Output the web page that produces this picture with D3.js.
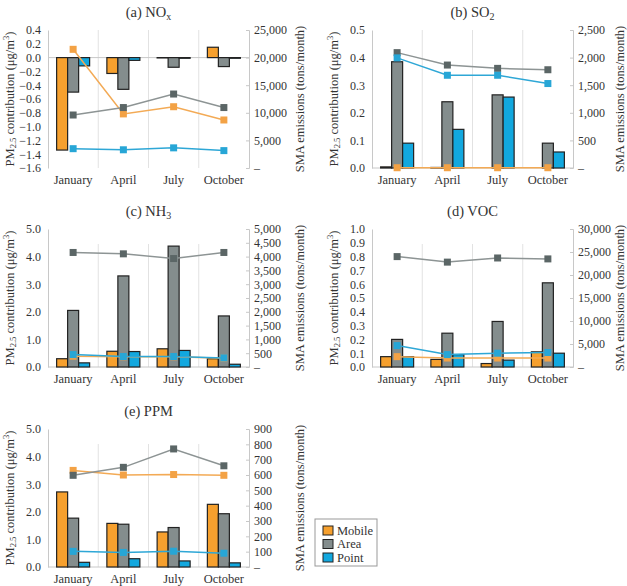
<!DOCTYPE html>
<html>
<head>
<meta charset="utf-8">
<script src="https://cdn.jsdelivr.net/npm/d3@7"></script>
<style>
  body { margin: 0; background: #fff; }
</style>
</head>
<body>
<svg id="chart" width="627" height="586"></svg>
<script>
// categories and series
const months = ["January", "April", "July", "October"];
const sources = ["Mobile", "Area", "Point"];
const colors = ["#f6a02e", "#848d8d", "#12a8df"];
const markerColors = ["#f3a245", "#5b6666", "#27a6d6"];
const lineColors = ["#f3aa55", "#8d9494", "#2ea7d6"];

// PM2.5 contribution (ug/m3) — rows: Mobile, Area, Point
const noxPM = [[-1.34, -0.23, -0.005, 0.15], [-0.50, -0.46, -0.14, -0.13], [-0.12, -0.04, -0.01, -0.01]];
const so2PM = [[0.004, 0.002, 0.0, 0.0], [0.385, 0.24, 0.265, 0.09], [0.09, 0.14, 0.257, 0.058]];
const nh3PM = [[0.30, 0.57, 0.66, 0.30], [2.05, 3.30, 4.38, 1.85], [0.15, 0.56, 0.60, 0.10]];
const vocPM = [[0.075, 0.055, 0.025, 0.11], [0.20, 0.245, 0.33, 0.61], [0.075, 0.09, 0.05, 0.10]];
const ppmPM = [[2.72, 1.58, 1.27, 2.27], [1.77, 1.55, 1.43, 1.93], [0.17, 0.30, 0.22, 0.15]];

// SMA emissions (tons/month) — rows: Mobile, Area, Point
const noxEmis = [[21500, 9800, 11100, 8700], [9600, 10950, 13400, 10950], [3500, 3300, 3650, 3150]];
const so2Emis = [[5, 5, 5, 5], [2090, 1865, 1805, 1780], [1995, 1680, 1680, 1530]];
const nh3Emis = [[390, 370, 370, 320], [4150, 4100, 3930, 4150], [450, 380, 380, 330]];
const vocEmis = [[2250, 1950, 1950, 1950], [24000, 22800, 23700, 23500], [4650, 2700, 3000, 3150]];
const ppmEmis = [[630, 600, 603, 598], [598, 650, 770, 660], [102, 95, 103, 90]];

const panels = [
  { title: ["(a) NO", "x"], pm: noxPM, emis: noxEmis, pmDomain: [-1.6, 0.4], pmStep: 0.2, emisMax: 25000, emisStep: 5000, x: 48, y: 30, gridTop: 0, rt: 51 },
  { title: ["(b) SO", "2"], pm: so2PM, emis: so2Emis, pmDomain: [0, 0.5], pmStep: 0.1, emisMax: 2500, emisStep: 500, x: 372, y: 30, gridTop: 0, rt: 47 },
  { title: ["(c) NH", "3"], pm: nh3PM, emis: nh3Emis, pmDomain: [0, 5], pmStep: 1, emisMax: 5000, emisStep: 500, x: 48, y: 229, gridTop: 15, rt: 51 },
  { title: ["(d) VOC", ""], pm: vocPM, emis: vocEmis, pmDomain: [0, 1], pmStep: 0.1, emisMax: 30000, emisStep: 5000, x: 372, y: 229, gridTop: 15, rt: 47 },
  { title: ["(e) PPM", ""], pm: ppmPM, emis: ppmEmis, pmDomain: [0, 5], pmStep: 1, emisMax: 900, emisStep: 100, x: 48, y: 429, gridTop: 15, rt: 51 }
];

const W = 201, H = 138, barW = 11;
const FONT = "Liberation Serif";
const svg = d3.select("#chart").attr("font-family", FONT);

panels.forEach(function(p) {
  const g = svg.append("g").attr("transform", "translate(" + p.x + "," + p.y + ")");

  const x = d3.scaleBand().domain(months).range([0, W]);
  const y = d3.scaleLinear().domain(p.pmDomain).range([H, 0]);
  const y2 = d3.scaleLinear().domain([0, p.emisMax]).range([H, 0]);

  // category separators
  g.selectAll("line.sep").data(months.slice(1)).enter().append("line")
    .attr("x1", d => x(d)).attr("x2", d => x(d))
    .attr("y1", p.gridTop).attr("y2", H)
    .attr("stroke", "#e2e2e2");

  // zero line
  g.append("line").attr("x1", 0).attr("x2", W)
    .attr("y1", y(0)).attr("y2", y(0)).attr("stroke", "#c8c8c8");

  // left axis
  const ticks = d3.range(0, Math.round((p.pmDomain[1] - p.pmDomain[0]) / p.pmStep) + 1)
    .map(i => +(p.pmDomain[0] + i * p.pmStep).toFixed(2));
  const ax = g.append("g").call(d3.axisLeft(y).tickValues(ticks).tickFormat(d3.format(".1f")).tickSize(0).tickPadding(7));
  ax.select(".domain").attr("stroke", "#c8c8c8");
  ax.selectAll("text").style("font-size", "12px");

  // right axis
  const ticks2 = d3.range(0, p.emisMax + 1, p.emisStep);
  const ax2 = g.append("g").attr("transform", "translate(" + W + ",0)")
    .call(d3.axisRight(y2).tickValues(ticks2).tickFormat(d => d === 0 ? "–" : d3.format(",")(d)).tickSize(-3).tickPadding(5));
  ax2.select(".domain").attr("stroke", "#c8c8c8");
  ax2.selectAll(".tick line").attr("stroke", "#c8c8c8");
  ax2.selectAll("text").style("font-size", "12px");

  // month labels
  g.selectAll("text.month").data(months).enter().append("text")
    .attr("x", d => x(d) + x.bandwidth() / 2).attr("y", H + 16)
    .attr("text-anchor", "middle").style("font-size", "12.5px").text(d => d);

  // bars
  sources.forEach(function(s, i) {
    g.selectAll("rect.s" + i).data(p.pm[i]).enter().append("rect")
      .attr("x", (d, j) => x(months[j]) + x.bandwidth() / 2 + (i - 1.5) * barW)
      .attr("width", barW)
      .attr("y", d => Math.min(y(d), y(0)))
      .attr("height", d => Math.abs(y(d) - y(0)))
      .attr("fill", colors[i]).attr("stroke", "#222").attr("stroke-width", 1.2);
  });

  // emission lines
  const line = d3.line().x((d, j) => x(months[j]) + x.bandwidth() / 2).y(d => y2(d));
  sources.forEach(function(s, i) {
    g.append("path").datum(p.emis[i]).attr("d", line)
      .attr("fill", "none").attr("stroke", lineColors[i]).attr("stroke-width", 1.5);
    g.selectAll("rect.m" + i).data(p.emis[i]).enter().append("rect")
      .attr("x", (d, j) => x(months[j]) + x.bandwidth() / 2 - 3.5)
      .attr("y", d => y2(d) - 3.5).attr("width", 7).attr("height", 7)
      .attr("fill", markerColors[i]);
  });

  // title
  const t = g.append("text").attr("x", W / 2).attr("y", -13)
    .attr("text-anchor", "middle").style("font-size", "14.5px").text(p.title[0]);
  if (p.title[1]) t.append("tspan").attr("dy", 3).style("font-size", "10px").text(p.title[1]);

  // left axis title
  const lt = g.append("text").attr("transform", "translate(-38," + H / 2 + ") rotate(-90)")
    .attr("text-anchor", "middle").attr("dy", "0.35em").style("font-size", "12.5px");
  lt.append("tspan").text("PM");
  lt.append("tspan").attr("dy", 2).style("font-size", "8.5px").text("2.5");
  lt.append("tspan").attr("dy", -2).text(" contribution (μg/m");
  lt.append("tspan").attr("dy", -5).style("font-size", "8.5px").text("3");
  lt.append("tspan").attr("dy", 5).text(")");

  // right axis title
  g.append("text").attr("transform", "translate(" + (W + p.rt) + "," + H / 2 + ") rotate(-90)")
    .attr("text-anchor", "middle").attr("dy", "0.35em").style("font-size", "12.5px").text("SMA emissions (tons/month)");
});

// legend
const lg = svg.append("g").attr("transform", "translate(315,519)");
lg.append("rect").attr("width", 62).attr("height", 47).attr("fill", "#fff").attr("stroke", "#999");
sources.forEach(function(s, i) {
  lg.append("rect").attr("x", 8).attr("y", 7 + i * 13.5).attr("width", 10).attr("height", 9)
    .attr("fill", colors[i]).attr("stroke", "#222");
  lg.append("text").attr("x", 22).attr("y", 15.5 + i * 13.5).style("font-size", "12.5px").text(s);
});

// one font and ink colour for every text, axis groups included
svg.selectAll("g").attr("font-family", FONT);
svg.selectAll("text").style("font-family", FONT).attr("fill", "#333");
</script>
</body>
</html>
